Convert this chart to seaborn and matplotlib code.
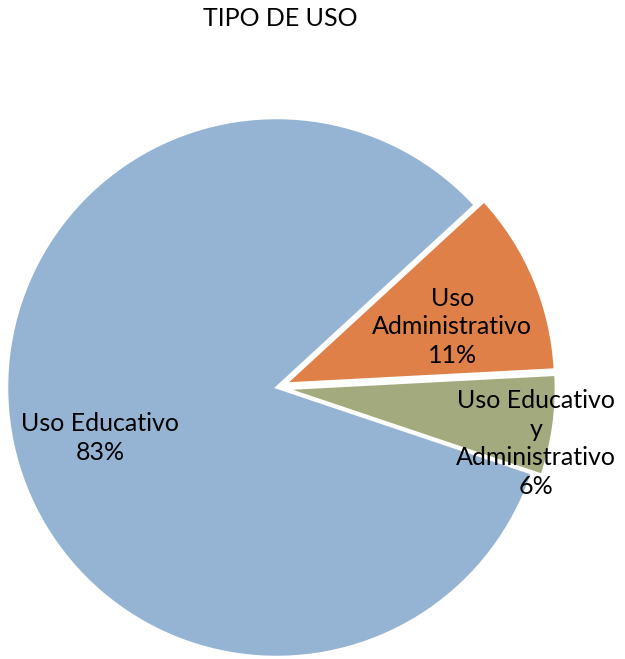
import numpy as np
import matplotlib
matplotlib.use('Agg')
import matplotlib.pyplot as plt
import seaborn as sns

# Datos del gráfico
categorias = ['Uso Educativo', 'Uso\nAdministrativo', 'Uso Educativo\ny\nAdministrativo']
porcentajes = [83, 11, 6]
colores = ['#95B4D4', '#DE8048', '#A3AA7E']
separacion = [0, 0.037, 0.037]

sns.set_theme(style='white')
plt.rcParams['font.family'] = ['Lato', 'DejaVu Sans']

fig = plt.figure(figsize=(6.25, 6.59), dpi=100)
ax = fig.add_axes([0, 0, 1, 1])

wedges, _ = ax.pie(porcentajes, colors=colores, explode=separacion,
                   startangle=-18.6, counterclock=False,
                   wedgeprops={'edgecolor': 'white', 'linewidth': 1.8})

# Etiquetas dentro de cada sector
dist = [0.68, 0.69, 0.985]
ajuste = [4.0, -3.8, -4.4]
for w, cat, p, d, a in zip(wedges, categorias, porcentajes, dist, ajuste):
    ang = np.deg2rad((w.theta1 + w.theta2) / 2 + a)
    ax.text(d * np.cos(ang), d * np.sin(ang), f'{cat}\n{p}%',
            ha='center', va='center', fontsize=18, color='black',
            linespacing=1.3)

ax.set_aspect('auto')
ax.set_xlim(-276.5 / 269.5, (625 - 276.5) / 269.5)
ax.set_ylim(-(659 - 387.5) / 269.5, 387.5 / 269.5)
ax.axis('off')

fig.text(280 / 625, 1 - 19 / 659, 'TIPO DE USO', ha='center', va='center',
         fontsize=18, color='black')

fig.savefig('out.png', dpi=100, facecolor='white')
